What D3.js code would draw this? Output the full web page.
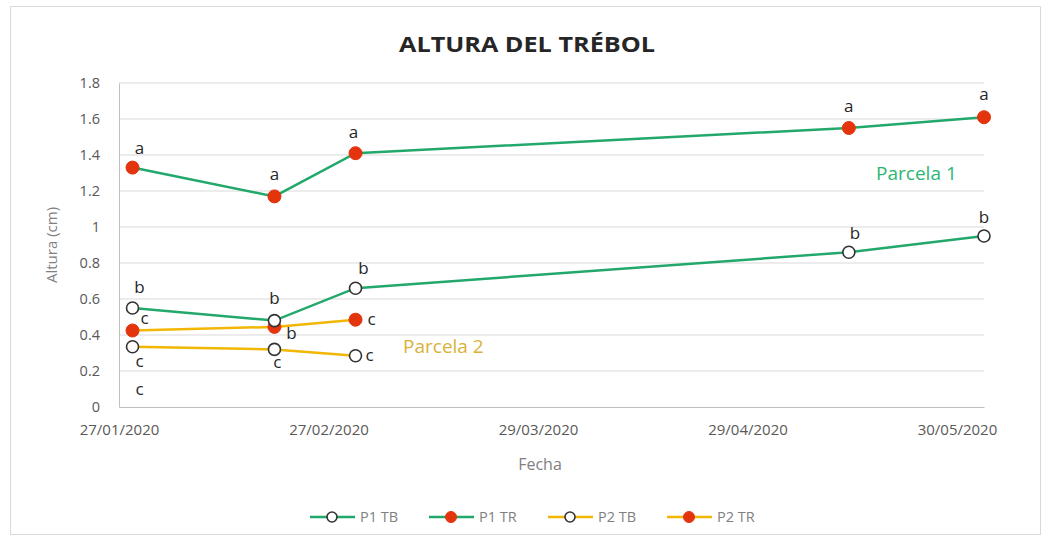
<!DOCTYPE html>
<html>
<head>
<meta charset="utf-8">
<script src="https://cdn.jsdelivr.net/npm/d3@7"></script>
<style>
  body { margin: 0; background: #fff; }
  text { font-family: "Open Sans", "Noto Sans", sans-serif; }
</style>
</head>
<body>
<div id="chart"></div>
<script>
// data
var dates = ["2020-01-29", "2020-02-19", "2020-03-02", "2020-05-14", "2020-06-03"];
var p1TB = [0.55, 0.48, 0.66, 0.86, 0.95];
var p1TR = [1.33, 1.17, 1.41, 1.55, 1.61];
var p2TB = [0.335, 0.32, 0.285];
var p2TR = [0.425, 0.445, 0.485];
var yTicks = [0, 0.2, 0.4, 0.6, 0.8, 1, 1.2, 1.4, 1.6, 1.8];
var xTicks = ["2020-01-27", "2020-02-27", "2020-03-29", "2020-04-29", "2020-05-30"];
var seriesNames = ["P1 TB", "P1 TR", "P2 TB", "P2 TR"];

// significance letters per point
var p1TBLetters = ["b", "b", "b", "b", "b"];
var p1TRLetters = ["a", "a", "a", "a", "a"];
var p2TBLetters = ["c", "c", "c"];
var p2TRLetters = ["c", "b", "c"];

var parseDate = d3.timeParse("%Y-%m-%d");
var fmt = d3.timeFormat("%d/%m/%Y");

var svgWidth = 1049;
var svgHeight = 540;
var margin = { top: 83, right: 65, bottom: 133, left: 119 };
var width = svgWidth - margin.left - margin.right;
var height = svgHeight - margin.top - margin.bottom;

var green = "#22a86a";
var gold = "#f2b705";
var red = "#e3340e";
var dark = "#333333";

var svg = d3.select("#chart").append("svg")
  .attr("width", svgWidth)
  .attr("height", svgHeight);

// outer chart border
svg.append("rect")
  .attr("x", 10.5).attr("y", 6.5)
  .attr("width", 1030).attr("height", 528)
  .attr("fill", "#fff")
  .attr("stroke", "#d9d9d9");

var chartGroup = svg.append("g")
  .attr("transform", `translate(${margin.left}, ${margin.top})`);

var xScale = d3.scaleTime()
  .domain([parseDate("2020-01-27"), parseDate("2020-06-03")])
  .range([0, width]);

var yScale = d3.scaleLinear()
  .domain([0, 1.8])
  .range([height, 0]);

// gridlines
chartGroup.append("g")
  .selectAll("line")
  .data(yTicks.filter(d => d > 0))
  .enter()
  .append("line")
  .attr("x1", 0).attr("x2", width)
  .attr("y1", d => yScale(d)).attr("y2", d => yScale(d))
  .attr("stroke", "#d9d9d9")
  .attr("stroke-width", 1);

// y axis
var leftAxis = d3.axisLeft(yScale)
  .tickValues(yTicks)
  .tickSize(0)
  .tickPadding(19)
  .tickFormat(d => d3.format("")(+d.toFixed(1)));
var yAxis = chartGroup.append("g").call(leftAxis);
yAxis.select(".domain").attr("stroke", "#bfbfbf");
yAxis.selectAll("text")
  .attr("fill", "#595959")
  .style("font-size", "14.5px");

// x axis
var bottomAxis = d3.axisBottom(xScale)
  .tickValues(xTicks.map(parseDate))
  .tickSize(0)
  .tickPadding(17)
  .tickFormat(fmt);
var xAxis = chartGroup.append("g")
  .attr("transform", `translate(0, ${height})`)
  .call(bottomAxis);
xAxis.select(".domain").attr("stroke", "#bfbfbf");
xAxis.selectAll("text")
  .attr("fill", "#595959")
  .style("font-size", "15px");

// axis titles
svg.append("text")
  .attr("transform", "translate(57, 245) rotate(-90)")
  .attr("text-anchor", "middle")
  .attr("fill", "#7f7f7f")
  .style("font-size", "15px")
  .text("Altura (cm)");

svg.append("text")
  .attr("x", 540).attr("y", 470)
  .attr("text-anchor", "middle")
  .attr("fill", "#7f7f7f")
  .style("font-size", "16px")
  .text("Fecha");

// title
svg.append("text")
  .attr("x", 527).attr("y", 52)
  .attr("text-anchor", "middle")
  .attr("fill", "#262626")
  .style("font-size", "21px")
  .style("font-weight", "bold")
  .attr("textLength", 256)
  .attr("lengthAdjust", "spacingAndGlyphs")
  .text("ALTURA DEL TRÉBOL");

var series = [
  { name: seriesNames[0], values: p1TB, letters: p1TBLetters, line: green, filled: false },
  { name: seriesNames[1], values: p1TR, letters: p1TRLetters, line: green, filled: true },
  { name: seriesNames[2], values: p2TB, letters: p2TBLetters, line: gold, filled: false },
  { name: seriesNames[3], values: p2TR, letters: p2TRLetters, line: gold, filled: true }
];

var line = d3.line()
  .x(d => xScale(d.date))
  .y(d => yScale(d.value));

series.forEach(function(s) {
  s.points = s.values.map((v, i) => ({ date: parseDate(dates[i]), value: v, letter: s.letters[i] }));
});

// draw parcela 2 first, parcela 1 on top
[2, 3, 0, 1].forEach(function(k) {
  var s = series[k];
  chartGroup.append("path")
    .datum(s.points)
    .attr("fill", "none")
    .attr("stroke", s.line)
    .attr("stroke-width", 2.5)
    .attr("d", line);

  chartGroup.append("g")
    .selectAll("circle")
    .data(s.points)
    .enter()
    .append("circle")
    .attr("cx", d => xScale(d.date))
    .attr("cy", d => yScale(d.value))
    .attr("r", s.filled ? 6.5 : 6)
    .attr("fill", s.filled ? red : "#fff")
    .attr("stroke", s.filled ? red : dark)
    .attr("stroke-width", s.filled ? 1 : 1.6);
});

// letter placement offsets (px) from each point
var letterOffsets = [
  [[7, -15], [0, -17], [8, -14], [6, -13], [0, -13]],
  [[7, -14], [0, -16], [-2, -15], [0, -16], [0, -17]],
  [[7, 20], [3, 19], [14, 5]],
  [[12, -7], [17, 12], [16, 5]]
];

series.forEach(function(s, k) {
  chartGroup.append("g")
    .selectAll("text")
    .data(s.points)
    .enter()
    .append("text")
    .attr("x", (d, i) => xScale(d.date) + letterOffsets[k][i][0])
    .attr("y", (d, i) => yScale(d.value) + letterOffsets[k][i][1])
    .attr("text-anchor", "middle")
    .attr("fill", "#262626")
    .style("font-size", "17px")
    .text(d => d.letter);
});

// stray "c" near the bottom-left
chartGroup.append("text")
  .attr("x", xScale(parseDate(dates[0])) + 7)
  .attr("y", yScale(0.1) + 6)
  .attr("text-anchor", "middle")
  .attr("fill", "#262626")
  .style("font-size", "17px")
  .text("c");

// parcela labels
chartGroup.append("text")
  .attr("x", xScale(parseDate("2020-05-24")))
  .attr("y", yScale(1.3) + 7)
  .attr("text-anchor", "middle")
  .attr("fill", "#2bb673")
  .style("font-size", "19px")
  .text("Parcela 1");

chartGroup.append("text")
  .attr("x", xScale(parseDate("2020-03-15")))
  .attr("y", yScale(0.34) + 7)
  .attr("text-anchor", "middle")
  .attr("fill", "#d9b23a")
  .style("font-size", "19px")
  .text("Parcela 2");

// legend
var legendX = [310, 429, 548, 667];
var legend = svg.append("g").attr("transform", "translate(0, 517)");
series.forEach(function(s, i) {
  var g = legend.append("g").attr("transform", `translate(${legendX[i]}, 0)`);
  g.append("line")
    .attr("x1", 0).attr("x2", 45)
    .attr("stroke", s.line)
    .attr("stroke-width", 2.5);
  g.append("circle")
    .attr("cx", 22).attr("r", s.filled ? 5.5 : 5)
    .attr("fill", s.filled ? red : "#fff")
    .attr("stroke", s.filled ? red : dark)
    .attr("stroke-width", s.filled ? 1 : 1.6);
  g.append("text")
    .attr("x", 50).attr("y", 5)
    .attr("fill", "#7f7f7f")
    .style("font-size", "14.5px")
    .text(s.name);
});
</script>
</body>
</html>
